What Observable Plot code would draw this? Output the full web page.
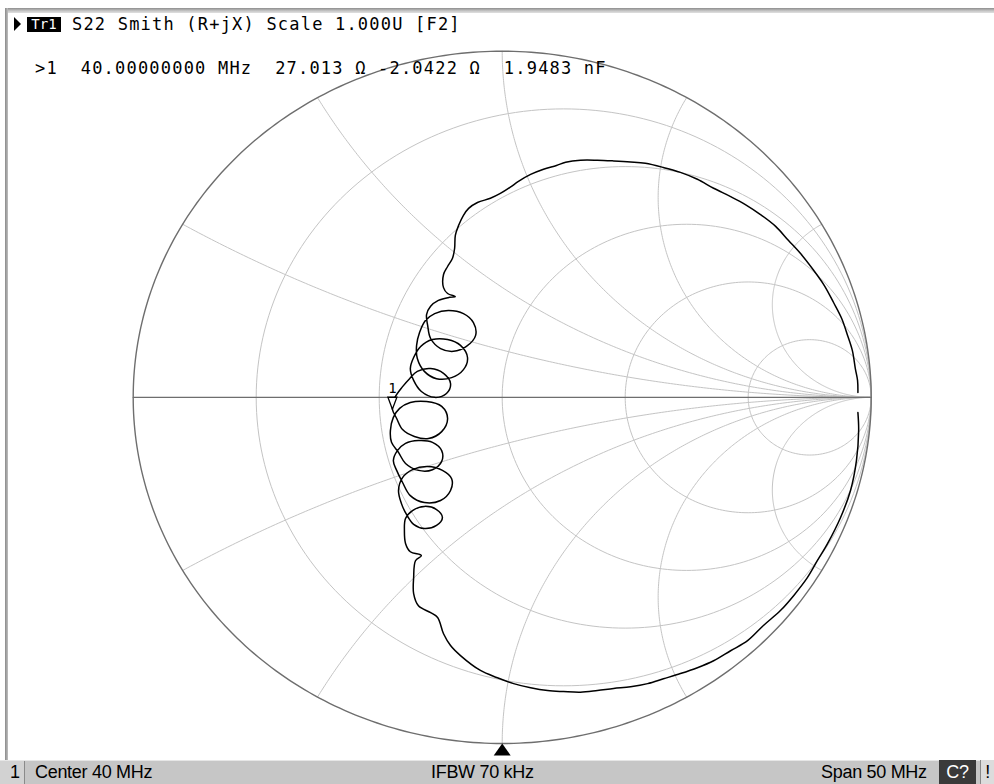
<!DOCTYPE html>
<html><head><meta charset="utf-8">
<script src="https://cdn.jsdelivr.net/npm/d3@7"></script>
<script src="https://cdn.jsdelivr.net/npm/@observablehq/plot@0.6"></script>
<style>
html,body{margin:0;padding:0;background:#fff;overflow:hidden}
#wrap{position:relative;width:994px;height:784px;overflow:hidden;background:#fff}
#wrap svg{position:absolute;left:0;top:0}
.abs{position:absolute;white-space:pre;line-height:1;color:#000}
.mono{font-family:"DejaVu Sans Mono",monospace;font-size:17px;letter-spacing:1.2px;line-height:17px}
.stat{font-family:"Liberation Sans",Arial,sans-serif;font-size:18px;letter-spacing:-0.3px;line-height:24px;top:760px;height:24px}
</style></head><body><div id="wrap"></div>
<script>
// ---- header / status texts ----
const traceName = "Tr1";
const traceTitle = "S22 Smith (R+jX) Scale 1.000U [F2]";
const markerFreq = "40.00000000";
const markerR = 27.013;      // ohm
const markerX = -2.0422;     // ohm
const markerC = "1.9483";    // nF
const Z0 = 50;
const statusLeft = "Center 40 MHz";
const statusMid = "IFBW 70 kHz";
const statusRight = "Span 50 MHz";

// ---- Smith grid values ----
const resistanceGrid = [0.2, 0.5, 1, 2, 5];
const reactanceGrid = [0.268, 0.577, 1, 1.732, 3.732];

// ---- trace (reflection coefficient, re / im) ----
const upperArc = [
  [0.964,0.014],[0.963,0.049],[0.957,0.083],[0.949,0.135],[0.936,0.179],[0.920,0.228],
  [0.898,0.274],[0.873,0.323],[0.844,0.367],[0.808,0.416],[0.776,0.453],[0.741,0.494],
  [0.700,0.528],[0.659,0.557],[0.619,0.580],[0.573,0.604],[0.529,0.630],[0.483,0.650],
  [0.437,0.664],[0.388,0.676],[0.348,0.680],[0.302,0.683],[0.258,0.685],[0.212,0.685],
  [0.172,0.679],[0.147,0.670],[0.112,0.659],[0.077,0.644],[0.044,0.624],[0.022,0.607],
  [-0.005,0.589],[-0.032,0.575],[-0.067,0.563],[-0.091,0.546],[-0.105,0.526],[-0.118,0.497],
  [-0.127,0.468],[-0.129,0.430],[-0.135,0.401],[-0.148,0.378],[-0.159,0.355],[-0.159,0.317],
  [-0.148,0.300],[-0.127,0.291],[-0.143,0.289],[-0.173,0.280],[-0.194,0.263],[-0.205,0.239]
];
const resonanceLoops = [
  [-0.202,0.208],[-0.194,0.170],[-0.167,0.141],[-0.132,0.133],[-0.097,0.147],[-0.072,0.179],
  [-0.078,0.216],[-0.105,0.242],[-0.146,0.251],[-0.183,0.242],[-0.208,0.222],[-0.224,0.187],[-0.232,0.150],
  [-0.230,0.112],[-0.211,0.075],[-0.178,0.054],[-0.137,0.057],[-0.105,0.080],[-0.094,0.115],
  [-0.113,0.150],[-0.148,0.167],[-0.189,0.167],[-0.221,0.147],[-0.240,0.115],[-0.249,0.083],
  [-0.240,0.049],[-0.219,0.017],[-0.183,0.000],[-0.151,0.011],[-0.140,0.040],[-0.159,0.069],
  [-0.194,0.083],[-0.230,0.075],[-0.251,0.054],[-0.270,0.031],[-0.292,-0.003],[-0.2975,-0.0344],
  [-0.286,-0.061],[-0.270,-0.093],[-0.238,-0.113],[-0.200,-0.119],[-0.164,-0.099],[-0.148,-0.061],
  [-0.164,-0.026],[-0.205,-0.012],[-0.249,-0.015],[-0.278,-0.032],[-0.295,-0.058],[-0.303,-0.096],[-0.300,-0.130],
  [-0.281,-0.159],[-0.262,-0.191],[-0.227,-0.211],[-0.189,-0.209],[-0.164,-0.185],[-0.164,-0.154],
  [-0.189,-0.130],[-0.227,-0.125],[-0.262,-0.133],[-0.284,-0.154],[-0.295,-0.183],[-0.286,-0.211],
  [-0.270,-0.246],[-0.249,-0.284],[-0.211,-0.304],[-0.167,-0.298],[-0.140,-0.269],[-0.137,-0.235],
  [-0.162,-0.211],[-0.202,-0.200],[-0.243,-0.209],[-0.270,-0.232],[-0.281,-0.269],[-0.273,-0.307],
  [-0.259,-0.339],[-0.240,-0.367],[-0.211,-0.379],[-0.178,-0.370],[-0.162,-0.347],[-0.178,-0.324],
  [-0.211,-0.315],[-0.243,-0.327],[-0.262,-0.350],[-0.265,-0.385],[-0.262,-0.422],[-0.249,-0.446],
  [-0.219,-0.457],[-0.235,-0.472],[-0.240,-0.521]
];
const lowerArc = [
  [-0.240,-0.567],[-0.227,-0.602],[-0.194,-0.622],[-0.175,-0.636],[-0.159,-0.683],[-0.140,-0.717],
  [-0.113,-0.746],[-0.059,-0.789],[-0.013,-0.810],[0.031,-0.827],[0.077,-0.839],[0.123,-0.847],
  [0.166,-0.850],[0.212,-0.852],[0.258,-0.847],[0.302,-0.841],[0.348,-0.836],[0.394,-0.827],
  [0.437,-0.813],[0.483,-0.798],[0.529,-0.781],[0.573,-0.761],[0.619,-0.732],[0.665,-0.703],
  [0.708,-0.659],[0.754,-0.616],[0.792,-0.570],[0.827,-0.521],[0.854,-0.472],[0.882,-0.422],
  [0.917,-0.347],[0.944,-0.269],[0.960,-0.183],[0.966,-0.096],[0.964,-0.044]
];

// ---- build rows ----
const traceRows = [...upperArc, ...resonanceLoops, ...lowerArc].map(([re, im]) => ({re, im}));

function arc(cx, cy, rad, a0, a1, n, id, flip = 1) {
  const out = [];
  for (let k = 0; k <= n; k++) {
    const a = a0 + (a1 - a0) * k / n;
    out.push({gx: cx + rad * Math.cos(a), gy: flip * (cy + rad * Math.sin(a)), id});
  }
  return out;
}
const gridRows = [];
resistanceGrid.forEach((r, i) => {
  gridRows.push(...arc(r / (1 + r), 0, 1 / (1 + r), 0, 2 * Math.PI, 240, "r" + i));
});
reactanceGrid.forEach((x, i) => {
  const th = 2 * Math.atan(1 / x);
  const cy = 1 / x;
  let a0 = Math.atan2(Math.sin(th) - cy, Math.cos(th) - 1);
  if (a0 < 0) a0 += 2 * Math.PI;
  gridRows.push(...arc(1, cy, 1 / x, a0, 1.5 * Math.PI, 240, "xp" + i, 1));
  gridRows.push(...arc(1, cy, 1 / x, a0, 1.5 * Math.PI, 240, "xn" + i, -1));
});
const outerRows = arc(0, 0, 1, 0, 2 * Math.PI, 400, "outer");

// marker position from its impedance reading
const zr = markerR / Z0, zi = markerX / Z0;
const den = (zr + 1) ** 2 + zi ** 2;
const markerRows = [{re: (zr * zr + zi * zi - 1) / den, im: 2 * zi / den}];

const downTri = {draw(ctx) { ctx.moveTo(0, 0); ctx.lineTo(-4.5, -12); ctx.lineTo(4.5, -12); ctx.closePath(); }};
const upTri = {draw(ctx) { ctx.moveTo(0, 0); ctx.lineTo(-8.5, 12); ctx.lineTo(8.5, 12); ctx.closePath(); }};

const chart = Plot.plot({
  width: 994,
  height: 784,
  margin: 0,
  style: {background: "transparent"},
  x: {domain: [-1, 1], range: [132.7, 870.7], axis: null},
  y: {domain: [-1, 1], range: [743, 50.7], axis: null},
  marks: [
    Plot.line(gridRows, {x: "gx", y: "gy", z: "id", stroke: "#c4c4c4", strokeWidth: 1}),
    Plot.line([{a: -1, b: 0}, {a: 1, b: 0}], {x: "a", y: "b", stroke: "#6e6e6e", strokeWidth: 1.4}),
    Plot.line(outerRows, {x: "gx", y: "gy", stroke: "#6e6e6e", strokeWidth: 1.4}),
    Plot.line(traceRows, {x: "re", y: "im", stroke: "#000", strokeWidth: 1.5, strokeLinejoin: "round", curve: "catmull-rom"}),
    Plot.dot(markerRows, {x: "re", y: "im", symbol: downTri, fill: "#fff", stroke: "#000", strokeWidth: 1.3}),
    Plot.text(markerRows, {x: "re", y: "im", text: () => "1", dy: -21, fontSize: 14, fontFamily: "DejaVu Sans Mono", fill: "#000"}),
    Plot.dot([{a: 0, b: -1}], {x: "a", y: "b", symbol: upTri, fill: "#000", stroke: "none"})
  ]
});

const wrap = document.getElementById("wrap");
wrap.appendChild(chart);

function el(cls, style, text) {
  const d = document.createElement("div");
  d.className = cls;
  Object.assign(d.style, style);
  if (text != null) d.textContent = text;
  wrap.appendChild(d);
  return d;
}
// window frame
el("abs", {left: "5px", top: "8px", right: "0px", height: "5px", background: "linear-gradient(#8e8e8e,#c8c8c8 60%,#e0e0e0)"});
el("abs", {left: "5px", top: "8px", width: "3px", height: "752px", background: "linear-gradient(90deg,#8a8a8a,#c0c0c0)"});
// header line 1
el("abs", {left: "14px", top: "17px", width: "0", height: "0", borderLeft: "7px solid #000", borderTop: "7.5px solid transparent", borderBottom: "7.5px solid transparent"});
el("abs", {left: "27px", top: "17px", width: "34px", height: "15px", background: "#000", color: "#fff",
  fontFamily: "DejaVu Sans Mono", fontSize: "14px", lineHeight: "15px", textAlign: "center", letterSpacing: "0px"}, traceName);
el("abs mono", {left: "72px", top: "16px"}, traceTitle);
// header line 2 (marker readout)
el("abs mono", {left: "35px", top: "60px"},
  `>1  ${markerFreq} MHz  ${markerR.toFixed(3)} Ω ${markerX.toFixed(4)} Ω  ${markerC} nF`);
// status bar
el("abs", {left: "0px", top: "760px", width: "994px", height: "24px", background: "#c6c6c6", borderTop: "1px solid #e6e6e6", boxSizing: "border-box"});
el("abs", {left: "0px", top: "761px", width: "25px", height: "23px", background: "#d2d2d2", borderRight: "1px solid #8a8a8a", boxSizing: "border-box"});
el("abs stat", {left: "10px"}, "1");
el("abs stat", {left: "35px"}, statusLeft);
el("abs stat", {left: "431px"}, statusMid);
el("abs stat", {left: "821px"}, statusRight);
el("abs stat", {left: "939px", width: "37px", background: "#3a3a3a", color: "#fff", textAlign: "center"}, "C?");
el("abs stat", {left: "980px", width: "14px", background: "#dcdcdc", borderLeft: "1px solid #888", boxSizing: "border-box", textAlign: "center"}, "!");
</script></body></html>
